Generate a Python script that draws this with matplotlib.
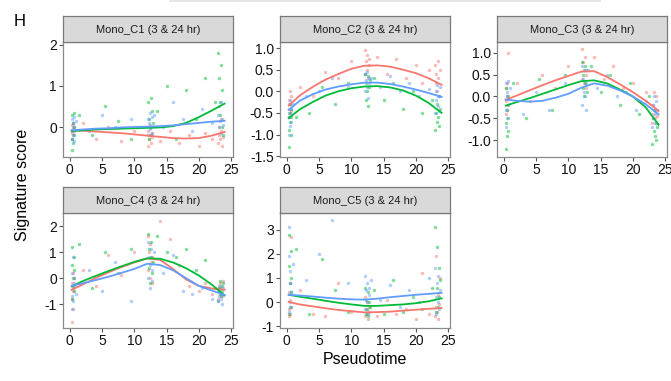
import matplotlib
matplotlib.use('Agg')
import matplotlib.pyplot as plt
from matplotlib.ticker import FormatStrFormatter

plt.rcParams['font.family'] = ['Liberation Sans', 'DejaVu Sans']

# 面板标题
titles = ['Mono_C1 (3 & 24 hr)', 'Mono_C2 (3 & 24 hr)', 'Mono_C3 (3 & 24 hr)',
          'Mono_C4 (3 & 24 hr)', 'Mono_C5 (3 & 24 hr)']

# 每组细胞的伪时间 (三组, 各面板共用)
x_red = [0.30, 0.35, 0.40, 0.45, 0.50, 0.55, 0.60, 0.70, 2.0, 4.0, 6.0, 8.0, 10.0,
         12.1, 12.2, 12.3, 12.4, 12.5, 12.6, 12.7, 12.8, 14.0, 15.5, 17.0, 18.5, 20.0, 21.0, 22.0,
         23.0, 23.1, 23.2, 23.3, 23.4, 23.5, 23.6, 23.7]
x_green = [0.32, 0.38, 0.42, 0.48, 0.52, 0.58, 0.62, 0.68, 1.5, 3.5, 5.5, 7.5, 9.5,
           12.15, 12.25, 12.35, 12.45, 12.55, 12.65, 12.75, 12.85, 13.5, 15.0, 16.5, 18.0, 19.5, 21.0, 22.5,
           23.05, 23.15, 23.25, 23.35, 23.45, 23.55, 23.65, 23.75]
x_blue = [0.31, 0.36, 0.41, 0.46, 0.51, 0.56, 0.64, 0.72, 1.0, 3.0, 5.0, 7.0, 9.5,
          12.1, 12.2, 12.3, 12.4, 12.5, 12.6, 12.7, 12.8, 13.0, 14.5, 16.0, 17.5, 19.0, 20.5, 22.0,
          23.0, 23.1, 23.2, 23.3, 23.4, 23.5, 23.6, 23.7]

# 散点: 签名得分
c1_red = [-0.3, 0.05, -0.15, -0.05, 0.1, -0.2, -0.1, 0.0, 0.1, -0.3, 0.0, -0.35, -0.1,
          -0.45, -0.1, -0.3, 0.05, -0.2, -0.4, -0.15, -0.25, -0.35, -0.1, -0.4, -0.2, -0.45, -0.15, -0.3,
          -0.4, -0.2, 0.0, -0.3, 0.2, -0.1, -0.45, -0.25]
c1_green = [-0.55, 0.3, -0.3, 0.1, -0.4, 0.0, 0.35, -0.2, 0.3, -0.2, 0.5, 0.15, -0.3,
            0.6, -0.3, 0.2, 0.0, 0.7, -0.2, 0.4, 0.1, 0.4, 1.0, -0.3, 0.9, 0.2, 1.2, 0.6,
            1.8, 1.2, 0.6, 0.3, 1.5, 0.0, 0.9, -0.2]
c1_blue = [-0.3, 0.2, -0.1, 0.1, -0.2, 0.0, 0.25, -0.35, 0.15, -0.1, 0.3, 0.0, 0.2,
           0.2, -0.2, 0.1, 0.35, -0.05, 0.0, 0.25, -0.15, 0.3, 0.0, 0.6, 0.2, -0.1, 0.45, 0.1,
           0.3, 0.0, 0.5, 0.15, -0.15, 0.6, 0.2, 0.05]

c2_red = [-0.6, -0.2, -0.4, 0.0, -0.5, -0.3, -0.1, -0.45, 0.1, -0.1, 0.45, 0.3, 0.7,
          0.95, 0.4, 0.7, 0.5, 0.85, 0.3, 0.6, 0.75, 0.8, 0.4, 0.75, 0.3, 0.6, 0.2, 0.5,
          0.6, 0.2, 0.4, 0.0, 0.7, 0.3, -0.1, 0.5]
c2_green = [-1.3, -0.5, -0.9, -0.3, -0.7, -1.0, -0.6, -0.4, -0.6, -0.5, 0.1, -0.3, 0.2,
            0.4, -0.2, 0.2, 0.0, 0.35, -0.35, 0.1, 0.25, 0.3, -0.2, 0.2, -0.4, 0.0, -0.5, -0.2,
            -0.9, -0.5, -0.7, -0.3, -0.6, -0.1, -0.8, -0.4]
c2_blue = [-1.0, -0.3, -0.6, -0.2, -0.8, -0.5, -0.4, -0.7, -0.3, -0.1, 0.0, 0.3, 0.1,
           0.4, 0.0, 0.25, 0.1, 0.45, -0.15, 0.2, 0.3, 0.3, 0.1, 0.35, 0.0, 0.2, -0.1, 0.05,
           -0.5, 0.0, -0.2, 0.15, -0.35, -0.1, -0.45, 0.1]

c3_red = [-0.4, 0.2, -0.1, 0.3, -0.3, 0.0, 1.0, -0.2, 0.3, -0.1, 0.5, 0.2, 0.7,
          1.1, 0.4, 0.8, 0.3, 0.6, 0.9, 0.5, 0.2, 0.9, 0.4, 0.7, 0.2, 0.3, -0.1, 0.1,
          -0.6, -0.2, -0.4, 0.1, -0.5, -0.3, 0.0, -0.45]
c3_green = [-1.2, -0.6, 0.2, -0.9, -0.3, 0.0, -0.5, -0.8, 0.3, -0.5, 0.4, -0.3, 0.5,
            0.8, 0.2, 0.5, 0.0, 0.7, 0.3, 0.6, 0.1, 0.7, 0.1, 0.5, -0.2, 0.3, -0.4, 0.0,
            -1.1, -0.5, -0.8, -0.3, -0.9, -0.6, -1.0, -0.7]
c3_blue = [-0.7, 0.3, -0.3, 0.1, -0.5, 0.0, -0.2, 0.35, 0.2, -0.4, 0.1, -0.3, 0.3,
           0.7, -0.2, 0.4, 0.1, 0.6, 0.0, 0.3, -0.3, 0.6, 0.2, 0.5, 0.0, 0.1, -0.3, -0.1,
           -0.7, -0.2, -0.5, 0.0, -0.4, -0.6, -0.1, -0.3]

c4_red = [-1.7, -0.2, -0.8, 0.2, -0.5, -1.2, -0.3, 0.0, 0.3, -0.3, 0.9, 0.1, 1.0,
          1.6, 0.3, 1.0, 0.0, 1.3, 0.6, -0.2, 0.8, 2.2, 1.5, 0.5, -0.3, -0.5, -0.2, -0.6,
          -0.8, -0.3, -0.5, -0.2, -0.6, -0.4, -0.7, -0.1]
c4_green = [1.2, -0.8, 0.5, -0.3, 0.0, 0.8, -0.5, 0.3, 1.3, -0.4, 1.0, 0.2, 1.1,
            1.7, 0.4, 1.1, -0.2, 0.8, 1.4, 0.2, 0.6, 1.6, 1.0, 0.8, 1.1, 0.3, 0.7, -0.4,
            -0.9, -0.4, -0.6, -0.1, -0.7, -0.3, -0.5, -0.2]
c4_blue = [-1.2, 0.2, -0.7, 0.8, -0.4, -0.9, 0.0, -0.2, -0.6, 0.3, -0.5, 0.6, -0.9,
           1.4, 0.0, 0.8, -0.4, 0.5, 1.1, 0.3, -0.1, 1.0, 0.2, 0.9, -0.5, -0.6, -0.4, -0.8,
           -0.9, -0.5, -0.7, -0.3, -0.8, -0.6, -1.0, -0.4]

c5_red = [-0.6, 0.4, -0.3, 0.8, -0.5, 0.1, -0.2, 2.7, 0.5, -0.5, -0.6, 0.8, -0.4,
          -0.6, 0.2, -0.3, -0.5, 0.0, -0.7, -0.2, -0.4, -0.6, 0.1, -0.5, -0.3, -0.7, 1.2, -0.5,
          -0.6, -0.2, 1.9, -0.4, 0.3, -0.7, -0.1, 1.0]
c5_green = [2.8, -0.5, 1.5, 0.8, -0.2, 2.1, 0.4, 1.0, 2.2, -0.5, 1.8, 0.5, -0.4,
            0.6, -0.5, 0.1, -0.3, 0.4, -0.6, 0.0, -0.2, 0.5, -0.5, 0.9, -0.4, 0.2, -0.3, 0.6,
            3.1, -0.4, 2.3, 0.6, -0.2, 1.4, 0.2, 0.9]
c5_blue = [3.1, -0.4, 1.9, 0.8, 0.0, 1.3, 0.4, -0.2, 1.6, 0.9, 2.0, 3.4, 0.8,
           1.1, -0.3, 0.5, 0.0, 0.8, -0.5, 0.3, 0.6, 0.9, 0.1, 0.7, -0.2, 0.5, 0.0, 1.0,
           1.4, 0.2, -0.5, 0.8, 0.0, 1.1, -0.3, 0.5]

# 拟合曲线 (loess), 在下列伪时间处读取
fit_x = [0.3, 2, 4, 6, 8, 10, 12, 14, 16, 18, 20, 22, 24]
c1_red_fit = [-0.08, -0.09, -0.11, -0.13, -0.15, -0.18, -0.21, -0.24, -0.27, -0.28, -0.27, -0.21, -0.12]
c1_green_fit = [-0.1, -0.08, -0.06, -0.05, -0.04, -0.03, -0.02, -0.01, 0.02, 0.1, 0.24, 0.4, 0.57]
c1_blue_fit = [-0.08, -0.06, -0.04, -0.03, -0.01, 0.0, 0.01, 0.02, 0.04, 0.07, 0.1, 0.13, 0.15]
c2_red_fit = [-0.33, -0.1, 0.1, 0.27, 0.4, 0.52, 0.59, 0.6, 0.57, 0.5, 0.42, 0.3, 0.15]
c2_green_fit = [-0.62, -0.42, -0.25, -0.1, 0.0, 0.07, 0.11, 0.12, 0.09, 0.02, -0.1, -0.27, -0.5]
c2_blue_fit = [-0.43, -0.22, -0.07, 0.04, 0.11, 0.16, 0.2, 0.2, 0.17, 0.11, 0.04, -0.04, -0.13]
c3_red_fit = [-0.08, 0.02, 0.14, 0.26, 0.37, 0.47, 0.57, 0.58, 0.45, 0.28, 0.1, -0.1, -0.33]
c3_green_fit = [-0.21, -0.13, -0.04, 0.06, 0.16, 0.26, 0.35, 0.37, 0.3, 0.16, 0.0, -0.25, -0.65]
c3_blue_fit = [-0.07, -0.1, -0.12, -0.1, -0.03, 0.06, 0.2, 0.3, 0.25, 0.14, 0.0, -0.18, -0.41]
c4_red_fit = [-0.45, -0.25, 0.0, 0.22, 0.42, 0.6, 0.75, 0.7, 0.35, -0.05, -0.3, -0.4, -0.45]
c4_green_fit = [-0.32, -0.12, 0.08, 0.27, 0.45, 0.62, 0.76, 0.74, 0.6, 0.38, 0.1, -0.25, -0.67]
c4_blue_fit = [-0.3, -0.2, -0.08, 0.05, 0.2, 0.35, 0.55, 0.5, 0.3, 0.0, -0.3, -0.48, -0.65]
c5_red_fit = [0.0, -0.1, -0.18, -0.26, -0.33, -0.38, -0.43, -0.42, -0.4, -0.36, -0.32, -0.28, -0.25]
c5_green_fit = [0.3, 0.22, 0.14, 0.05, -0.03, -0.1, -0.16, -0.16, -0.13, -0.1, -0.05, 0.03, 0.15]
c5_blue_fit = [0.3, 0.27, 0.23, 0.18, 0.14, 0.11, 0.1, 0.14, 0.2, 0.25, 0.3, 0.34, 0.38]

# y轴范围与刻度
ylims = [(-0.73, 2.07), (-1.52, 1.14), (-1.39, 1.25), (-1.92, 2.5), (-1.08, 3.7)]
yticks = [[0, 1, 2], [-1.5, -1.0, -0.5, 0.0, 0.5, 1.0], [-1.0, -0.5, 0.0, 0.5, 1.0],
          [-1, 0, 1, 2], [-1, 0, 1, 2, 3]]
xticks = [0, 5, 10, 15, 20, 25]

points = [(c1_red, c1_green, c1_blue), (c2_red, c2_green, c2_blue), (c3_red, c3_green, c3_blue),
          (c4_red, c4_green, c4_blue), (c5_red, c5_green, c5_blue)]
fits = [(c1_red_fit, c1_green_fit, c1_blue_fit), (c2_red_fit, c2_green_fit, c2_blue_fit),
        (c3_red_fit, c3_green_fit, c3_blue_fit), (c4_red_fit, c4_green_fit, c4_blue_fit),
        (c5_red_fit, c5_green_fit, c5_blue_fit)]
xs = [x_red, x_green, x_blue]
colors = ['#F8766D', '#00BA38', '#619CFF']

W, H = 671, 381
fig = plt.figure(figsize=(W / 100, H / 100), dpi=100)

# 顶部淡灰线
fig.add_artist(plt.Line2D([170 / W, 600 / W], [1 - 1 / H, 1 - 1 / H], color='#E2E2E2', lw=1.2))

lefts = [63, 280, 497]
tops = [42, 213]   # 面板上边 (像素)
pw, ph, sh = 170, 115, 26
border = '#8A8A8A'

for i in range(5):
    r, c = divmod(i, 3)
    left, top = lefts[c], tops[r]
    ax = fig.add_axes([left / W, 1 - (top + ph) / H, pw / W, ph / H])
    for xv, yv, col in zip(xs, points[i], colors):
        ax.scatter(xv, yv, s=6, color=col, alpha=0.5, linewidths=0)
    for yv, col in zip(fits[i], colors):
        ax.plot(fit_x, yv, color=col, lw=1.3)
    ax.set_xlim(-1.05, 25.3)
    ax.set_ylim(*ylims[i])
    ax.set_xticks(xticks)
    ax.set_yticks(yticks[i])
    if i in (1, 2):
        ax.yaxis.set_major_formatter(FormatStrFormatter('%.1f'))
    else:
        ax.yaxis.set_major_formatter(FormatStrFormatter('%d'))
    ax.tick_params(length=3, width=0.8, color='#555555', labelsize=10, pad=1.5, labelcolor='#111111')
    for sp in ax.spines.values():
        sp.set_color(border)
        sp.set_linewidth(0.9)

    # 分面标题条
    sax = fig.add_axes([left / W, 1 - top / H, pw / W, sh / H])
    sax.set_facecolor('#D9D9D9')
    sax.set_xticks([])
    sax.set_yticks([])
    for sp in sax.spines.values():
        sp.set_color('#7A7A7A')
        sp.set_linewidth(0.9)
    sax.text(0.5, 0.45, titles[i], ha='center', va='center', fontsize=8, color='#1A1A1A',
             transform=sax.transAxes)

fig.text(20 / W, 1 - 21 / H, 'H', ha='center', va='center', fontsize=12)
fig.text(23 / W, 1 - 185 / H, 'Signature score', ha='center', va='center', rotation=90, fontsize=11.5)
fig.text(365 / W, 1 - 359 / H, 'Pseudotime', ha='center', va='center', fontsize=11.5)

fig.savefig('out.png', dpi=100)
